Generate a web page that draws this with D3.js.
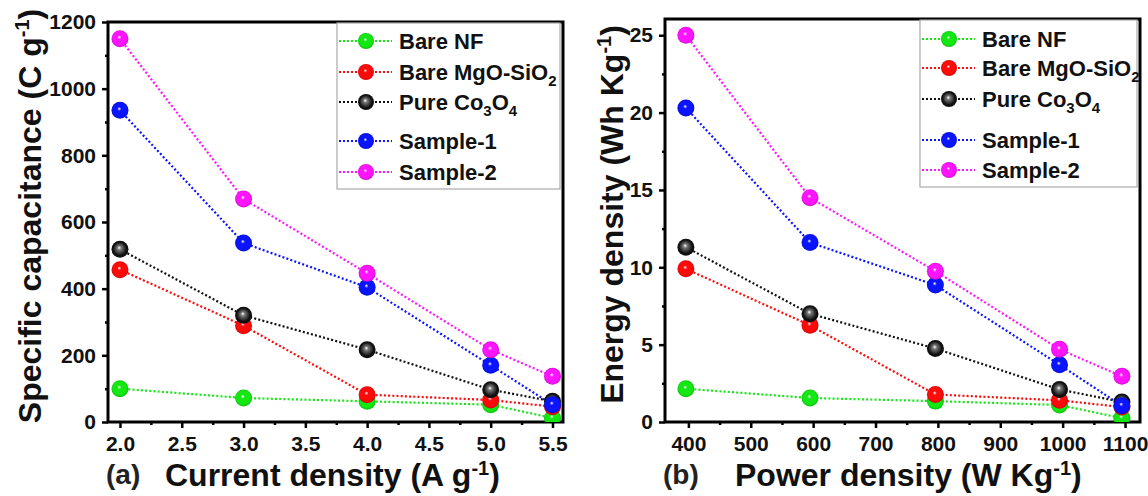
<!DOCTYPE html>
<html>
<head>
<meta charset="utf-8">
<script src="https://cdn.jsdelivr.net/npm/d3@7/dist/d3.min.js"></script>
<style>
  body { margin: 0; background: #fff; }
  text { font-family: "Liberation Sans", Arial, sans-serif; font-weight: bold; }
</style>
</head>
<body>
<svg id="chart" width="1148" height="496"></svg>
<script>
// series names and colours
const seriesNames = ["Bare NF", "Bare MgO-SiO2", "Pure Co3O4", "Sample-1", "Sample-2"];
const seriesColors = ["#13e813", "#ff0a0a", "#111111", "#0a14ff", "#ff14ff"];

// panel (a): current density vs specific capacitance
const currentDensity = [2.0, 3.0, 4.0, 5.0, 5.5];
const capBareNF   = [100, 72, 62, 52, 12];
const capMgOSiO2  = [457, 289, 82, 66, 46];
const capCo3O4    = [518, 320, 217, 97, 62];
const capSample1  = [935, 537, 404, 170, 52];
const capSample2  = [1150, 669, 446, 217, 137];

// panel (b): power density vs energy density
const powerDensity = [396, 595, 796, 995, 1095];
const enBareNF   = [2.15, 1.55, 1.35, 1.1, 0.25];
const enMgOSiO2  = [9.9, 6.25, 1.78, 1.4, 0.97];
const enCo3O4    = [11.3, 7.0, 4.75, 2.1, 1.3];
const enSample1  = [20.3, 11.6, 8.85, 3.7, 1.05];
const enSample2  = [25.0, 14.5, 9.75, 4.7, 2.95];

const xTicksA = [2.0, 2.5, 3.0, 3.5, 4.0, 4.5, 5.0, 5.5];
const yTicksA = [0, 200, 400, 600, 800, 1000, 1200];
const xTicksB = [400, 500, 600, 700, 800, 900, 1000, 1100];
const yTicksB = [0, 5, 10, 15, 20, 25];

const svg = d3.select("#chart");
const defs = svg.append("defs");

seriesColors.forEach((c, i) => {
  const g = defs.append("radialGradient")
    .attr("id", "ball" + i)
    .attr("cx", "50%").attr("cy", "50%").attr("r", "55%")
    .attr("fx", "45%").attr("fy", "40%");
  g.append("stop").attr("offset", "0%").attr("stop-color", "#fff");
  g.append("stop").attr("offset", "22%").attr("stop-color", i === 2 ? "#777" : c);
  g.append("stop").attr("offset", "70%").attr("stop-color", c);
  g.append("stop").attr("offset", "100%").attr("stop-color", d3.color(c).darker(0.8));
});

function drawPanel(cfg) {
  const x = d3.scaleLinear().domain(cfg.xDomain).range([cfg.left, cfg.right]);
  const y = d3.scaleLinear().domain(cfg.yDomain).range([cfg.bottom, cfg.top]);
  const g = svg.append("g");

  const clipId = "clip" + cfg.id;
  defs.append("clipPath").attr("id", clipId)
    .append("rect")
    .attr("x", cfg.left).attr("y", cfg.top)
    .attr("width", cfg.right - cfg.left).attr("height", cfg.bottom - cfg.top);

  // axes
  const xAxis = d3.axisBottom(x).tickValues(cfg.xTicks).tickFormat(cfg.xFormat)
    .tickSize(6).tickPadding(8);
  const yAxis = d3.axisLeft(y).tickValues(cfg.yTicks).tickFormat(d3.format("d"))
    .tickSize(6).tickPadding(6);

  const minorX = d3.range(cfg.xTicks.length - 1).map(i => (cfg.xTicks[i] + cfg.xTicks[i + 1]) / 2);
  const minorY = d3.range(cfg.yTicks.length - 1).map(i => (cfg.yTicks[i] + cfg.yTicks[i + 1]) / 2);

  g.append("g").attr("transform", `translate(0,${cfg.bottom})`)
    .call(d3.axisBottom(x).tickValues(minorX).tickSize(3).tickFormat(""))
    .call(s => s.select(".domain").remove())
    .selectAll("line").attr("stroke-width", 2.5);
  g.append("g").attr("transform", `translate(${cfg.left},0)`)
    .call(d3.axisLeft(y).tickValues(minorY).tickSize(3).tickFormat(""))
    .call(s => s.select(".domain").remove())
    .selectAll("line").attr("stroke-width", 2.5);

  const gx = g.append("g").attr("transform", `translate(0,${cfg.bottom})`).call(xAxis);
  gx.select(".domain").remove();
  gx.selectAll("line").attr("stroke-width", 2.5);
  gx.selectAll("text").attr("font-size", 21).attr("fill", "#111");

  const gy = g.append("g").attr("transform", `translate(${cfg.left},0)`).call(yAxis);
  gy.select(".domain").remove();
  gy.selectAll("line").attr("stroke-width", 2.5);
  gy.selectAll("text").attr("font-size", 21).attr("fill", "#111");

  // frame
  g.append("rect")
    .attr("x", cfg.left).attr("y", cfg.top)
    .attr("width", cfg.right - cfg.left).attr("height", cfg.bottom - cfg.top)
    .attr("fill", "none").attr("stroke", "#000").attr("stroke-width", 3);

  // legend box
  const lg = g.append("g");
  lg.append("rect")
    .attr("x", cfg.legX).attr("y", cfg.top + 1)
    .attr("width", cfg.right - 3 - cfg.legX).attr("height", cfg.legH)
    .attr("fill", "#fff").attr("stroke", "#aaa").attr("stroke-width", 1.2);

  const legRowsY = cfg.legRows;
  seriesNames.forEach((name, i) => {
    const ry = legRowsY[i];
    lg.append("line")
      .attr("x1", cfg.legX + 2).attr("x2", cfg.legX + 55)
      .attr("y1", ry).attr("y2", ry)
      .attr("stroke", seriesColors[i]).attr("stroke-width", 2)
      .attr("stroke-dasharray", "2,2");
    lg.append("circle")
      .attr("cx", cfg.legX + 29).attr("cy", ry).attr("r", 8)
      .attr("fill", `url(#ball${i})`);
    const t = lg.append("text")
      .attr("x", cfg.legX + 62).attr("y", ry + 8)
      .attr("font-size", 22).attr("fill", "#111");
    if (i === 1) {
      t.append("tspan").text("Bare MgO-SiO");
      t.append("tspan").attr("font-size", 15).attr("dy", 6).text("2");
    } else if (i === 2) {
      t.append("tspan").text("Pure Co");
      t.append("tspan").attr("font-size", 15).attr("dy", 6).text("3");
      t.append("tspan").attr("dy", -6).text("O");
      t.append("tspan").attr("font-size", 15).attr("dy", 6).text("4");
    } else {
      t.text(name);
    }
  });

  // series
  const line = d3.line().x(d => x(d[0])).y(d => y(d[1]));
  const plot = g.append("g").attr("clip-path", `url(#${clipId})`);
  cfg.series.forEach((vals, i) => {
    const pts = cfg.xVals.map((xv, j) => [xv, vals[j]]);
    plot.append("path")
      .attr("d", line(pts))
      .attr("fill", "none")
      .attr("stroke", seriesColors[i]).attr("stroke-width", 2.2)
      .attr("stroke-dasharray", "2,2.2");
  });
  cfg.series.forEach((vals, i) => {
    plot.selectAll(null)
      .data(cfg.xVals.map((xv, j) => [xv, vals[j]]))
      .enter().append("circle")
      .attr("cx", d => x(d[0])).attr("cy", d => y(d[1])).attr("r", 8.5)
      .attr("fill", `url(#ball${i})`);
  });

  // y title
  const yt = g.append("text")
    .attr("transform", `translate(${cfg.yTitleX},${(cfg.top + cfg.bottom) / 2 + cfg.yTitleShift}) rotate(-90)`)
    .attr("text-anchor", "middle")
    .attr("font-size", 32).attr("fill", "#111");
  yt.append("tspan").text(cfg.yTitle);
  yt.append("tspan").attr("font-size", 20).attr("dy", -12).text("-1");
  yt.append("tspan").attr("dy", 12).text(")");

  // x title
  const xt = g.append("text")
    .attr("x", cfg.xTitleX).attr("y", 486)
    .attr("font-size", 32).attr("fill", "#111");
  xt.append("tspan").text(cfg.xTitle);
  xt.append("tspan").attr("font-size", 20).attr("dy", -11).text("-1");
  xt.append("tspan").attr("dy", 11).text(")");

  g.append("text")
    .attr("x", cfg.labelX).attr("y", 484)
    .attr("font-family", "'Liberation Serif', 'Times New Roman', serif")
    .attr("font-size", 28).attr("fill", "#222")
    .text(cfg.label);
}

drawPanel({
  id: "a",
  left: 108, right: 563, top: 22, bottom: 422,
  xDomain: [1.903, 5.585], yDomain: [0, 1200],
  xTicks: xTicksA, yTicks: yTicksA, xFormat: d3.format(".1f"),
  xVals: currentDensity,
  series: [capBareNF, capMgOSiO2, capCo3O4, capSample1, capSample2],
  legX: 337, legH: 166, legRows: [41, 72, 102, 141, 172],
  yTitle: "Specific capacitance (C g", yTitleX: 41, yTitleShift: -6,
  xTitle: "Current density (A g", xTitleX: 165,
  label: "(a)", labelX: 106
});

drawPanel({
  id: "b",
  left: 665, right: 1140, top: 19, bottom: 422,
  xDomain: [362.5, 1124], yDomain: [0, 26.05],
  xTicks: xTicksB, yTicks: yTicksB, xFormat: d3.format("d"),
  xVals: powerDensity,
  series: [enBareNF, enMgOSiO2, enCo3O4, enSample1, enSample2],
  legX: 920, legH: 167, legRows: [39, 68, 99, 140, 170],
  yTitle: "Energy density (Wh Kg", yTitleX: 623, yTitleShift: -6,
  xTitle: "Power density (W Kg", xTitleX: 735,
  label: "(b)", labelX: 663
});
</script>
</body>
</html>
